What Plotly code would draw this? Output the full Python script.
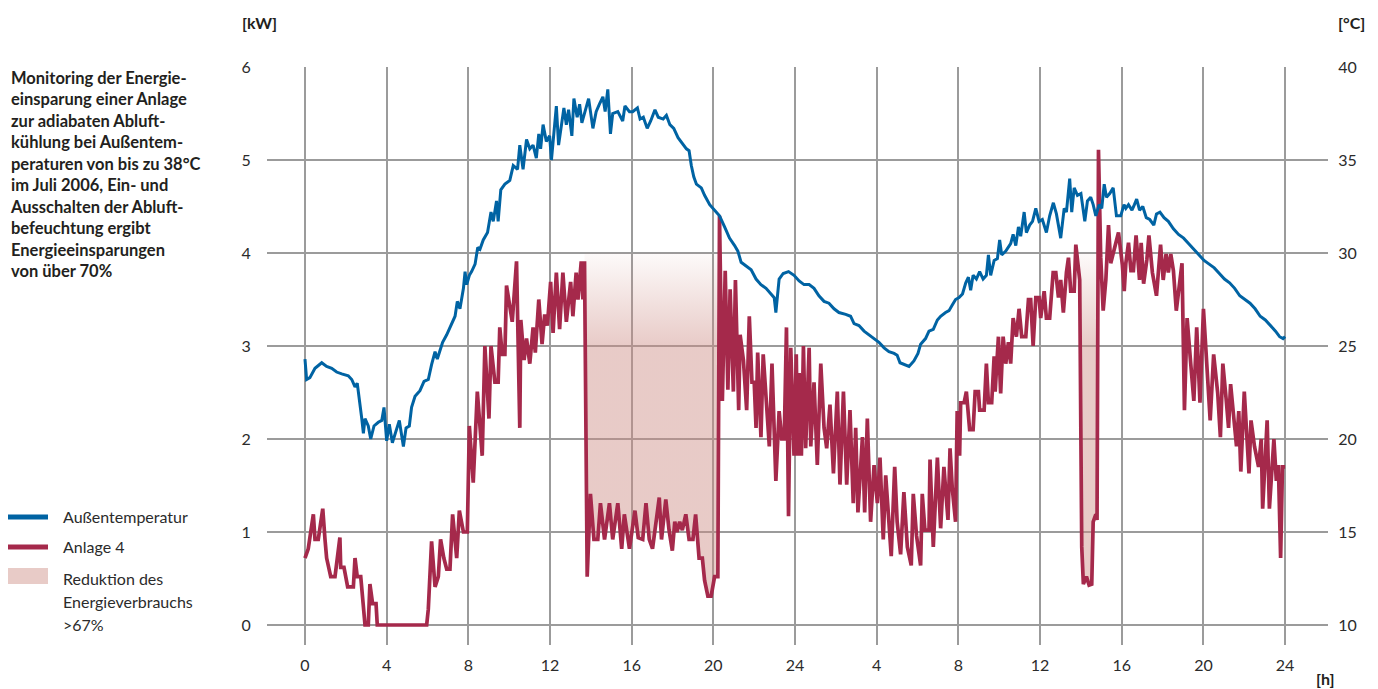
import plotly.graph_objects as go

# ---------------- data ----------------
# Außentemperatur [°C] over two days (hours 0..48)
temp_hours = [
    0.00, 0.08, 0.24, 0.49, 0.82, 1.06, 1.31, 1.55, 1.80, 2.12, 2.29, 2.45, 2.56, 2.66, 2.78, 2.86,
    2.94, 3.10, 3.22, 3.38, 3.59, 3.76, 3.87, 4.00, 4.13, 4.28, 4.41, 4.62, 4.82, 4.95, 5.11, 5.22,
    5.39, 5.63, 5.83, 6.04, 6.20, 6.37, 6.48, 6.61, 6.74, 6.94, 7.18, 7.35, 7.46, 7.59, 7.76, 7.84,
    7.92, 8.05, 8.16, 8.33, 8.46, 8.57, 8.73, 8.94, 9.11, 9.22, 9.38, 9.46, 9.59, 9.79, 10.03, 10.20,
    10.41, 10.52, 10.68, 10.85, 11.01, 11.17, 11.33, 11.45, 11.54, 11.66, 11.82, 11.98, 12.07, 12.20,
    12.31, 12.42, 12.55, 12.68, 12.80, 12.91, 13.07, 13.17, 13.33, 13.45, 13.56, 13.69, 13.89, 14.10,
    14.26, 14.42, 14.59, 14.70, 14.83, 14.96, 15.07, 15.32, 15.56, 15.67, 15.89, 16.05, 16.16, 16.28,
    16.41, 16.57, 16.76, 16.93, 17.14, 17.30, 17.54, 17.70, 17.87, 18.06, 18.27, 18.48, 18.68, 18.81,
    18.92, 19.04, 19.17, 19.41, 19.57, 19.82, 20.06, 20.30, 20.55, 20.79, 21.04, 21.20, 21.36, 21.60,
    21.85, 22.09, 22.33, 22.58, 22.82, 22.98, 23.06, 23.11, 23.22, 23.42, 23.68, 23.95, 24.20, 24.44,
    24.69, 24.93, 25.17, 25.42, 25.66, 25.91, 26.15, 26.48, 26.72, 26.89, 27.13, 27.38, 27.62, 27.87,
    28.11, 28.36, 28.60, 28.85, 29.00, 29.14, 29.33, 29.58, 29.82, 30.02, 30.15, 30.39, 30.56, 30.77,
    30.97, 31.13, 31.37, 31.54, 31.70, 31.86, 32.03, 32.20, 32.36, 32.49, 32.60, 32.72, 32.88, 33.04,
    33.21, 33.37, 33.47, 33.58, 33.75, 33.91, 34.02, 34.12, 34.32, 34.56, 34.68, 34.81, 34.94, 35.05,
    35.22, 35.33, 35.49, 35.63, 35.79, 35.95, 36.11, 36.31, 36.47, 36.65, 36.80, 37.01, 37.18, 37.29,
    37.45, 37.55, 37.67, 37.83, 38.00, 38.19, 38.32, 38.48, 38.60, 38.73, 38.89, 39.02, 39.14, 39.25,
    39.41, 39.58, 39.74, 39.95, 40.11, 40.20, 40.33, 40.50, 40.62, 40.73, 40.87, 41.03, 41.20, 41.37,
    41.57, 41.70, 41.87, 42.07, 42.28, 42.53, 42.78, 43.03, 43.28, 43.53, 43.78, 44.03, 44.28, 44.53,
    44.78, 45.03, 45.28, 45.53, 45.78, 46.03, 46.28, 46.53, 46.78, 47.03, 47.28, 47.53, 47.73, 47.90,
    48.00,
]
temp_c = [
    24.3, 23.2, 23.3, 23.8, 24.1, 23.9, 23.8, 23.6, 23.5, 23.4, 23.2, 22.8, 23.0, 22.2, 21.1, 20.3,
    21.1, 20.7, 20.0, 20.7, 20.9, 21.0, 21.7, 19.9, 20.8, 19.8, 20.3, 21.0, 19.6, 20.6, 20.7, 21.7,
    22.3, 22.6, 23.1, 23.2, 24.0, 24.7, 24.3, 24.8, 25.2, 25.6, 26.2, 26.6, 27.4, 27.0, 28.1, 29.0,
    28.3, 28.8, 29.0, 29.4, 30.3, 30.2, 30.7, 31.1, 32.2, 31.7, 32.8, 31.7, 33.4, 33.7, 33.9, 34.7,
    34.5, 35.8, 34.5, 36.1, 35.6, 35.8, 35.1, 36.4, 35.6, 36.9, 36.0, 36.3, 35.0, 36.4,
    37.9, 35.8, 36.7, 37.8, 36.9, 37.7, 36.3, 38.3, 37.3, 38.0, 37.0, 37.5, 38.3, 36.7,
    37.6, 38.0, 38.4, 37.6, 38.8, 36.4, 37.5, 37.6, 37.1, 37.9, 37.6, 37.6, 37.7, 37.8,
    37.2, 37.3, 36.7, 37.1, 37.7, 37.3, 37.2, 37.4, 36.9, 36.7, 36.2, 35.9, 35.6, 35.5,
    34.7, 34.1, 33.7, 33.5, 33.1, 32.6, 32.3, 32.0, 31.4, 30.8, 30.4, 30.1, 29.5, 29.3,
    29.1, 28.6, 28.3, 28.1, 27.8, 27.6, 26.8, 27.4, 28.6, 28.9, 29.0, 28.8, 28.5, 28.3,
    28.3, 28.1, 27.7, 27.4, 27.3, 27.0, 26.8, 26.7, 26.6, 26.2, 26.1, 25.8, 25.6, 25.4,
    25.2, 24.9, 24.7, 24.6, 24.5, 24.1, 24.0, 23.9, 24.2, 24.6, 25.1, 25.4, 25.8, 25.9,
    26.4, 26.6, 26.8, 26.9, 27.2, 27.5, 27.6, 27.8, 28.4, 28.7, 28.0, 28.8, 28.6, 29.0,
    28.6, 28.8, 29.9, 28.8, 29.6, 29.7, 30.7, 29.9, 30.1, 30.5, 31.0, 30.4, 31.4, 30.9,
    32.2, 31.1, 31.5, 31.7, 32.4, 31.7, 31.8, 31.1, 32.0, 32.7, 32.1, 30.8, 32.4, 32.2,
    34.0, 32.2, 33.5, 33.1, 33.2, 31.7, 32.8, 33.0, 32.6, 32.0, 32.6, 32.4, 33.7, 33.0,
    33.2, 33.5, 32.0, 32.0, 32.6, 32.4, 32.6, 32.3, 32.6, 32.9, 32.3, 32.5, 31.9, 31.8,
    31.5, 32.1, 32.2, 31.9, 31.7, 31.3, 31.0, 30.8, 30.5, 30.2, 29.9, 29.6, 29.4, 29.2,
    28.9, 28.6, 28.4, 28.1, 27.7, 27.5, 27.3, 27.0, 26.6, 26.4, 26.1, 25.8, 25.5, 25.4,
    25.5,
]

# Anlage 4 [kW]
power_hours = [
    0.00, 0.16, 0.41, 0.49, 0.65, 0.87, 0.98, 1.06, 1.26, 1.47, 1.71, 1.75, 1.91, 2.09, 2.37, 2.45,
    2.56, 2.73, 2.94, 3.10, 3.18, 3.31, 3.48, 3.54, 5.96, 6.04, 6.20, 6.37, 6.53, 6.64, 6.80, 6.94,
    7.10, 7.23, 7.43, 7.56, 7.76, 7.95, 8.05, 8.24, 8.44, 8.68, 8.81, 9.01, 9.11, 9.30, 9.46, 9.54,
    9.66, 9.79, 9.87, 10.03, 10.15, 10.36, 10.52, 10.57, 10.73, 10.85, 11.01, 11.17, 11.28, 11.45,
    11.61, 11.74, 11.87, 12.03, 12.15, 12.31, 12.47, 12.63, 12.80, 13.01, 13.12, 13.28, 13.37, 13.53,
    13.61, 13.69, 13.82, 13.98, 14.15, 14.34, 14.47, 14.67, 14.91, 15.07, 15.32, 15.51, 15.64, 15.89,
    16.16, 16.32, 16.54, 16.70, 16.86, 17.02, 17.19, 17.35, 17.46, 17.67, 17.83, 17.99, 18.11, 18.22,
    18.35, 18.48, 18.65, 18.81, 19.00, 19.13, 19.30, 19.46, 19.57, 19.73, 19.89, 20.06, 20.22, 20.30,
    20.44, 20.58, 20.71, 20.82, 20.98, 21.08, 21.24, 21.31, 21.47, 21.63, 21.76, 21.89, 22.00, 22.09,
    22.17, 22.33, 22.44, 22.61, 22.74, 22.87, 23.06, 23.22, 23.35, 23.47, 23.58, 23.68, 23.79, 23.95,
    24.06, 24.13, 24.20, 24.31, 24.41, 24.52, 24.69, 24.77, 24.93, 25.09, 25.26, 25.42, 25.55, 25.71,
    25.88, 26.07, 26.20, 26.37, 26.53, 26.69, 26.85, 26.97, 27.08, 27.30, 27.41, 27.54, 27.70, 27.87,
    28.03, 28.16, 28.32, 28.44, 28.60, 28.71, 28.88, 29.00, 29.17, 29.33, 29.50, 29.69, 29.79, 29.95,
    30.15, 30.23, 30.36, 30.56, 30.61, 30.77, 30.97, 31.13, 31.29, 31.49, 31.59, 31.70, 31.86, 31.94,
    32.06, 32.11, 32.28, 32.39, 32.55, 32.72, 32.82, 32.98, 33.04, 33.26, 33.37, 33.47, 33.63, 33.75,
    33.80, 33.96, 34.07, 34.19, 34.32, 34.45, 34.56, 34.68, 34.84, 34.97, 35.10, 35.30, 35.43, 35.54,
    35.66, 35.79, 35.95, 36.03, 36.20, 36.31, 36.47, 36.64, 36.77, 36.90, 37.01, 37.14, 37.29, 37.39,
    37.50, 37.67, 37.75, 37.83, 37.94, 38.04, 38.12, 38.27, 38.40, 38.53, 38.60, 38.73, 38.79, 38.86,
    38.97, 39.09, 39.22, 39.35, 39.46, 39.62, 39.84, 40.03, 40.12, 40.20, 40.33, 40.45, 40.57, 40.70,
    40.87, 40.95, 41.07, 41.23, 41.33, 41.50, 41.70, 41.90, 42.03, 42.17, 42.28, 42.40, 42.53, 42.67,
    42.83, 42.95, 43.07, 43.20, 43.37, 43.53, 43.67, 43.83, 44.00, 44.17, 44.33, 44.50, 44.70, 44.83,
    44.95, 45.12, 45.23, 45.33, 45.50, 45.62, 45.73, 45.83, 46.00, 46.12, 46.23, 46.33, 46.50, 46.70,
    46.83, 46.90, 47.12, 47.23, 47.45, 47.57, 47.67, 47.78, 47.87, 48.00,
]
power_kw = [
    0.72, 0.82, 1.19, 0.92, 0.92, 1.25, 0.92, 0.72, 0.52, 0.52, 0.94, 0.62, 0.62, 0.41, 0.41, 0.72,
    0.52, 0.52, 0.00, 0.00, 0.44, 0.23, 0.23, 0.00, 0.00, 0.17, 0.90, 0.41, 0.52, 0.92, 0.72, 0.60,
    0.60, 1.19, 0.72, 1.23, 1.00, 1.00, 2.14, 1.53, 2.51, 1.82, 3.00, 2.22, 3.00, 2.61, 2.61, 3.20,
    2.91, 2.91, 3.65, 3.42, 3.26, 3.91, 2.12, 3.28, 2.85, 3.08, 2.81, 3.20, 2.93, 3.50,
    3.02, 3.34, 3.22, 3.69, 3.14, 3.79, 3.18, 3.79, 3.26, 3.69, 3.32, 3.79, 3.50, 3.91,
    3.50, 3.91, 0.52, 1.41, 0.92, 0.92, 1.31, 0.92, 1.31, 0.92, 1.31, 0.82, 1.19, 0.82,
    1.23, 0.94, 0.92, 1.31, 0.92, 0.82, 1.11, 1.37, 0.92, 1.35, 1.02, 0.80, 1.11, 1.00,
    1.11, 1.02, 1.19, 0.92, 0.92, 1.19, 0.72, 0.72, 0.48, 0.31, 0.31, 0.52, 0.52, 4.40,
    2.41, 3.81, 2.53, 3.61, 2.51, 3.71, 2.31, 3.12, 2.85, 2.31, 3.32, 2.61, 2.61, 2.12,
    2.93, 2.02, 2.91, 2.39, 1.92, 2.81, 1.55, 2.30, 2.00, 2.00, 3.20, 1.17, 2.98, 1.82,
    2.91, 1.82, 2.71, 1.82, 3.00, 1.90, 2.98, 1.92, 2.61, 1.72, 2.81, 2.12, 1.90, 2.37,
    1.63, 2.51, 1.51, 2.51, 1.51, 2.31, 1.31, 2.12, 1.21, 2.02, 1.21, 2.22, 1.11, 1.72,
    1.31, 1.80, 0.92, 1.61, 1.11, 0.74, 1.70, 1.11, 0.76, 1.43, 0.84, 0.64, 1.41, 0.96,
    0.64, 1.41, 1.02, 1.02, 1.78, 0.84, 1.80, 1.04, 1.70, 1.13, 1.90, 1.47, 1.11, 2.30,
    1.82, 2.39, 2.39, 2.51, 2.10, 2.10, 2.51, 2.51, 2.31, 2.31, 2.81, 2.39, 2.39, 2.89,
    2.51, 3.10, 2.49, 3.10, 2.81, 3.04, 2.81, 3.30, 3.10, 3.40, 3.10, 3.10, 3.50, 3.50,
    3.00, 3.52, 3.52, 3.30, 3.59, 3.30, 3.30, 3.79, 3.79, 3.52, 3.71, 3.36, 3.79, 3.95,
    3.59, 3.59, 4.09, 3.89, 3.71, 0.84, 0.44, 0.52, 0.43, 0.44, 1.11, 1.19, 1.13, 5.11,
    3.95, 3.38, 3.71, 4.30, 3.89, 4.03, 4.22, 3.87, 3.59, 3.89, 4.11, 3.81, 3.81, 4.19,
    3.71, 4.11, 3.67, 3.93, 4.19, 3.79, 3.54, 4.09, 3.71, 3.99, 3.79, 3.99, 3.81, 3.38,
    3.71, 3.89, 2.31, 3.30, 2.83, 2.41, 3.20, 2.39, 3.40, 2.69, 2.20, 2.91, 2.49, 2.02,
    2.81, 2.41, 2.12, 2.59, 2.20, 1.92, 2.30, 1.65, 2.51, 2.10, 1.63, 2.20, 1.92, 1.70,
    2.00, 1.25, 2.20, 1.25, 2.00, 1.55, 1.72, 0.72, 1.70, 1.70,
]

# periods with switched-on exhaust air humidification (energy reduction), in hours
reduction_windows = [(13.69, 20.30), (37.94, 38.86)]
reduction_top_kw = 4.0

x_tick_vals = [0, 4, 8, 12, 16, 20, 24, 28, 32, 36, 40, 44, 48]
x_tick_text = ["0", "4", "8", "12", "16", "20", "24", "4", "8", "12", "16", "20", "24"]
kw_ticks = [0, 1, 2, 3, 4, 5, 6]
c_ticks = [10, 15, 20, 25, 30, 35, 40]

# ---------------- styling ----------------
BLUE = "#0063a3"
RED = "#a5294b"
PINK = "rgb(232,203,199)"
PINK_T = "rgba(204,139,131,0.45)"
PINK_0 = "rgba(204,139,131,0)"
GRID = "#9b9b9b"
TXT = "#2b2b2b"
DARK = "#231f20"
FONT = "Lato"

W, H = 1378, 689
# plot area in screen pixels
L, R, T, B = 267, 1328, 67, 645


def px(xs):
    return (xs - L) / (R - L)


def py(ys):
    return (B - ys) / (B - T)


fig = go.Figure()

# reduction areas (between the power curve and the upper limit, fading out upwards)
for (t0, t1) in reduction_windows:
    xs = [t for t in power_hours if t0 <= t <= t1]
    ys = [p for t, p in zip(power_hours, power_kw) if t0 <= t <= t1]
    xs = xs + [t1, t0]
    ys = ys + [reduction_top_kw, reduction_top_kw]
    fig.add_trace(go.Scatter(
        x=xs, y=ys, mode="lines", fill="toself", line=dict(width=0),
        fillgradient=dict(type="vertical", colorscale=[[0, PINK_T], [1, PINK_0]],
                          start=3.0, stop=4.1),
        hoverinfo="skip", showlegend=False,
    ))

fig.add_trace(go.Scatter(x=temp_hours, y=temp_c, yaxis="y2", mode="lines",
                         line=dict(color=BLUE, width=3), name="Außentemperatur",
                         showlegend=False))
fig.add_trace(go.Scatter(x=power_hours, y=power_kw, mode="lines",
                         line=dict(color=RED, width=3.7), name="Anlage 4",
                         showlegend=False))

x0, x1 = -1.86, 50.1
kw0 = -0.215
fig.update_layout(
    width=W, height=H,
    margin=dict(l=L, r=W - R, t=T, b=H - B, autoexpand=False),
    paper_bgcolor="white", plot_bgcolor="white",
    font=dict(family=FONT, color=TXT, size=16),
    hovermode=False,
    xaxis=dict(range=[x0, x1], tickvals=x_tick_vals, ticktext=x_tick_text, automargin=False,
               showgrid=True, gridcolor=GRID, gridwidth=2, zeroline=False,
               showline=False, ticks="outside", ticklen=6, tickcolor="rgba(0,0,0,0)",
               tickfont=dict(size=16, color=TXT)),
    yaxis=dict(range=[kw0, 6], tickvals=kw_ticks, showgrid=True, gridcolor=GRID,
               automargin=False,
               gridwidth=2, zeroline=False, showline=False, ticks="outside",
               ticklen=12, tickcolor="rgba(0,0,0,0)", tickfont=dict(size=16, color=TXT)),
    yaxis2=dict(range=[10 + kw0 * 5, 40], tickvals=c_ticks, overlaying="y", side="right",
                automargin=False,
                showgrid=False, zeroline=False, showline=False, ticks="outside",
                ticklen=6, tickcolor="rgba(0,0,0,0)", tickfont=dict(size=16, color=TXT)),
)

ann = []
desc = ("Monitoring der Energie-<br>einsparung einer Anlage<br>zur adiabaten Abluft-<br>"
        "kühlung bei Außentem-<br>peraturen von bis zu 38°C<br>im Juli 2006, Ein- und<br>"
        "Ausschalten der Abluft-<br>befeuchtung ergibt<br>Energieeinsparungen<br>von über 70%")
ann.append(dict(text="<b>" + desc.replace("<br>", "</b><br><b>") + "</b>", x=px(8), y=py(66),
                xref="paper", yref="paper", xanchor="left", yanchor="top", align="left",
                showarrow=False, font=dict(size=16.5, color=DARK, family=FONT)))
for txt, xx, yy in [("<b>[kW]</b>", 259, 22), ("<b>[°C]</b>", 1351, 22), ("<b>[h]</b>", 1325, 678)]:
    ann.append(dict(text=txt, x=px(xx), y=py(yy), xref="paper", yref="paper",
                    xanchor="center", yanchor="middle", showarrow=False,
                    font=dict(size=16, color=DARK)))

legend_items = [("Außentemperatur", 516), ("Anlage 4", 546), ("Reduktion des", 578),
                ("Energieverbrauchs", 601), (">67%", 624)]
for txt, yy in legend_items:
    ann.append(dict(text=txt, x=px(61), y=py(yy), xref="paper", yref="paper",
                    xanchor="left", yanchor="middle", showarrow=False,
                    font=dict(size=16, color=TXT)))
fig.update_layout(annotations=ann)

shapes = [
    dict(type="line", xref="paper", yref="paper", x0=px(8), x1=px(48), y0=py(517), y1=py(517),
         line=dict(color=BLUE, width=5)),
    dict(type="line", xref="paper", yref="paper", x0=px(8), x1=px(48), y0=py(547), y1=py(547),
         line=dict(color=RED, width=5)),
    dict(type="rect", xref="paper", yref="paper", x0=px(8), x1=px(48), y0=py(584), y1=py(568),
         fillcolor=PINK, line=dict(width=0)),
]
fig.update_layout(shapes=shapes)

# the page body has no margin so the figure fills the window exactly
fig.write_html("out.html", config={"displayModeBar": False, "staticPlot": True},
               post_script="document.body.style.margin='0px';document.body.style.overflow='hidden';")
